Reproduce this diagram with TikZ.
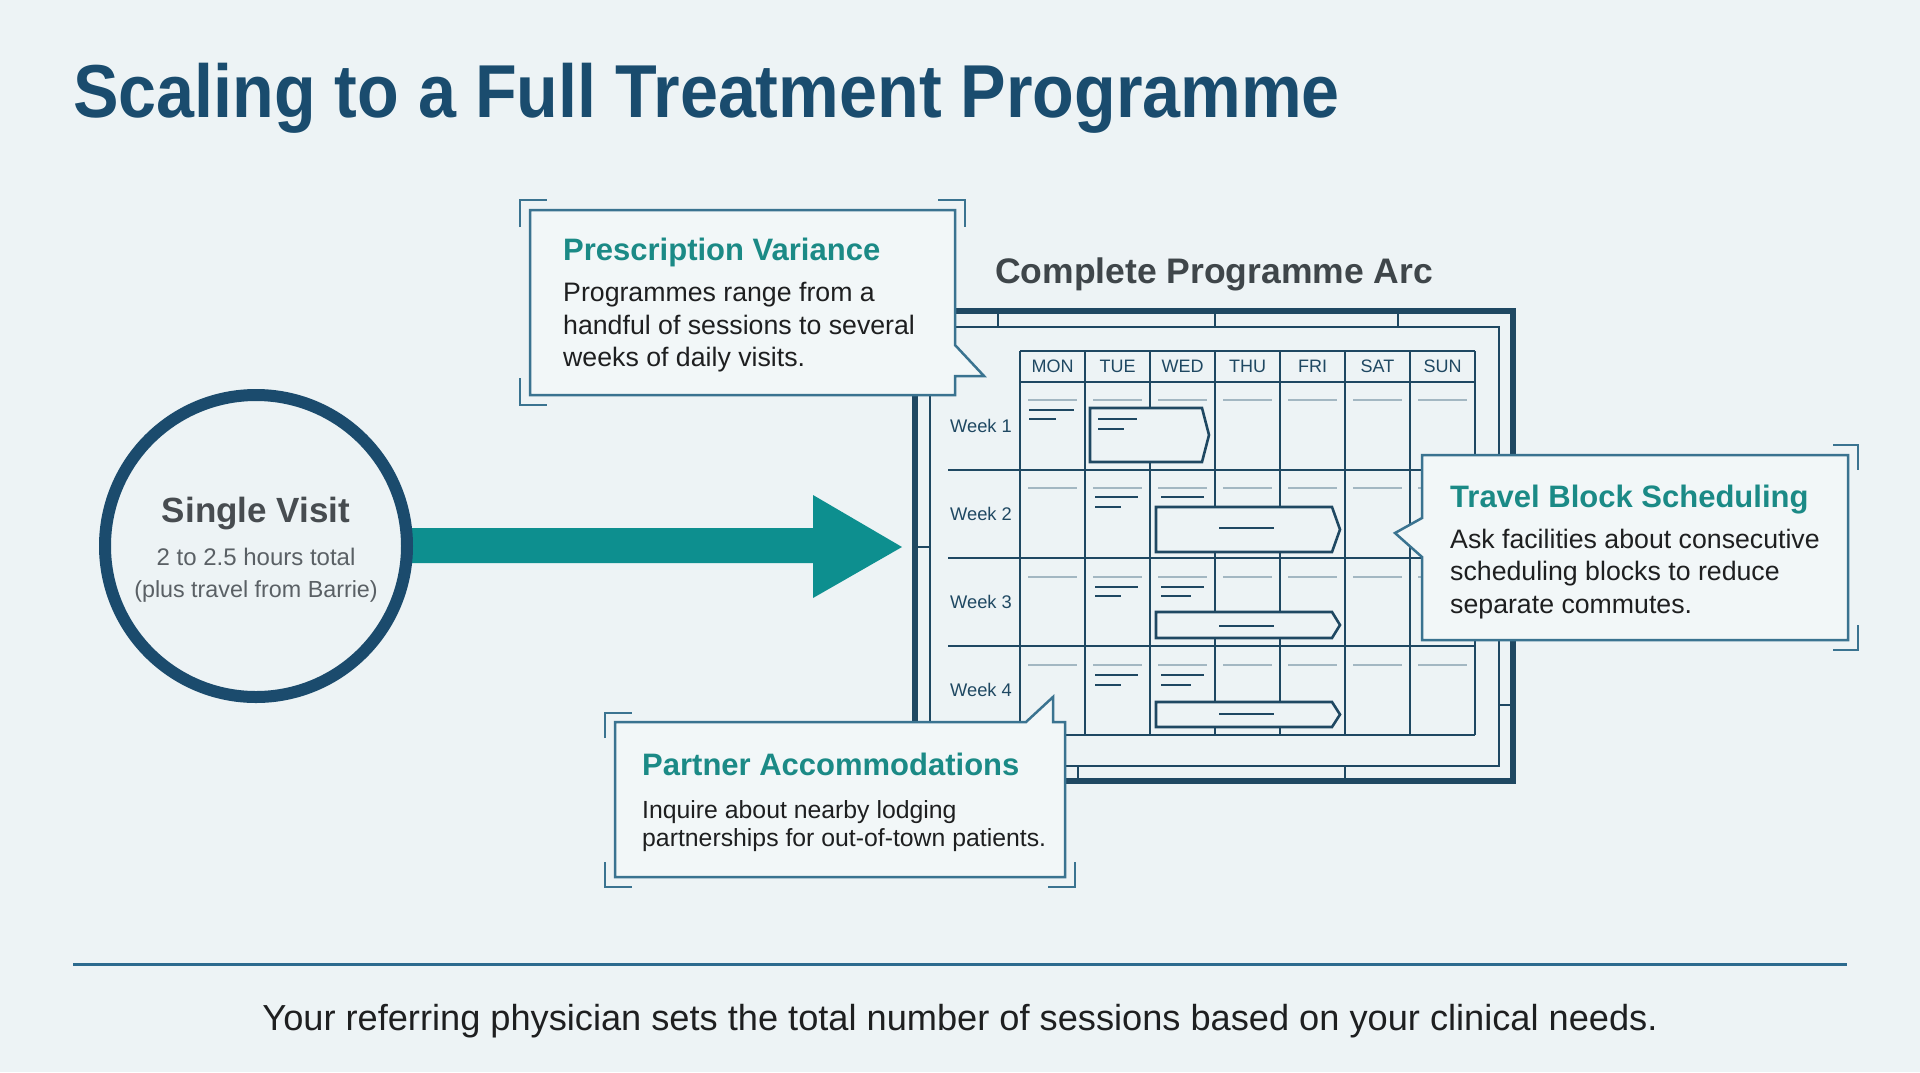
\documentclass[tikz,border=0pt]{standalone}
\usepackage{fontspec}
\setmainfont{Liberation Sans}
\usepackage{graphicx}
\usetikzlibrary{calc,backgrounds}
\definecolor{pagebg}{HTML}{EDF3F5}
\definecolor{cardfill}{HTML}{F2F7F8}
\definecolor{titleblue}{HTML}{1A4C6E}
\definecolor{headteal}{HTML}{1B8A86}
\definecolor{bodyblack}{HTML}{1E1F20}
\definecolor{circnavy}{HTML}{1B4B6D}
\definecolor{svgrey}{HTML}{474C50}
\definecolor{subgrey}{HTML}{5A6065}
\definecolor{arcgrey}{HTML}{3F464A}
\definecolor{calline}{HTML}{1F4862}
\definecolor{faintline}{HTML}{A3B7C2}
\definecolor{arrowteal}{HTML}{0D8F8F}
\definecolor{cardline}{HTML}{3A7390}
\definecolor{rulecol}{HTML}{2C6A8E}
\tikzset{
  txt/.style={inner sep=0pt, anchor=base west},
  head/.style={txt, font=\bfseries\fontsize{31}{37}\selectfont, text=headteal},
  body/.style={txt, font=\fontsize{26.7}{32}\selectfont, text=bodyblack},
  smallbody/.style={txt, font=\fontsize{24.8}{30}\selectfont, text=bodyblack},
  callout/.style={draw=cardline, line width=2.5pt, fill=cardfill, line join=miter},
  bracket/.style={draw=cardline, line width=2.5pt},
  gridline/.style={draw=calline, line width=2.6pt},
  faint/.style={draw=faintline, line width=2pt},
  noteline/.style={draw=calline, line width=2pt},
  block/.style={draw=calline, line width=2.6pt, fill=pagebg, line join=miter},
  dayhdr/.style={inner sep=0pt, anchor=center, font=\fontsize{18}{20}\selectfont, text=calline},
  weeklbl/.style={inner sep=0pt, anchor=center, font=\fontsize{18.3}{20}\selectfont, text=calline}
}
\begin{document}
\begin{tikzpicture}[x=1pt,y=-1pt]
\useasboundingbox (0,0) rectangle (1920,1072);

% title
\node[txt, font=\bfseries\fontsize{75}{90}\selectfont, text=titleblue] (title) at (73,117)
  {\scalebox{0.91}[1]{Scaling to a Full Treatment Programme}};

% single visit circle
\node[circle, draw=circnavy, line width=12pt, minimum size=302pt, inner sep=0pt, fill=pagebg] (sv) at (256,546) {};
\node[inner sep=0pt, anchor=base, font=\bfseries\fontsize{35}{42}\selectfont, text=svgrey] (svt) at (256,522) {Single Visit};
\node[inner sep=0pt, anchor=base, font=\fontsize{24}{29}\selectfont, text=subgrey] (svs1) at (256,565) {2 to 2.5 hours total};
\node[inner sep=0pt, anchor=base, font=\fontsize{23.3}{28}\selectfont, text=subgrey] (svs2) at (256,597) {(plus travel from Barrie)};

\coordinate (calL) at (915,547);

\begin{pgfonlayer}{background}
\fill[pagebg] (0,0) rectangle (1920,1072);
\fill[arrowteal] ($(sv.center)+(140,-18)$) -- ($(calL)+(-102,-19)$) -- ($(calL)+(-102,-52)$)
  -- ($(calL)+(-13,0)$) -- ($(calL)+(-102,51)$) -- ($(calL)+(-102,16)$)
  -- ($(sv.center)+(140,17)$) -- cycle;
\end{pgfonlayer}

% calendar heading
\node[txt, font=\bfseries\fontsize{35.5}{42}\selectfont, text=arcgrey] (arc) at (995,283) {Complete Programme Arc};

% calendar frame
\draw[draw=calline, line width=5.5pt] (915,311) rectangle (1513,781);
\draw[draw=calline, line width=2.6pt] (930,327) rectangle (1499,766);
\foreach \x in {998,1215,1398} \draw[gridline] (\x,311) -- (\x,327);
\foreach \x in {1078,1345} \draw[gridline] (\x,766) -- (\x,781);
\draw[gridline] (1499,705) -- (1513,705);
\draw[gridline] (915,547) -- (930,547);

% grid
\foreach \x in {1020,1085,1150,1215,1280,1345,1410,1475} \draw[gridline] (\x,351) -- (\x,735);
\draw[gridline] (1020,351) -- (1475,351);
\draw[gridline] (1020,382) -- (1475,382);
\foreach \y in {470,558,646} \draw[gridline] (948,\y) -- (1475,\y);
\draw[gridline] (1020,735) -- (1475,735);

% day headers
\foreach \d [count=\i from 0] in {MON,TUE,WED,THU,FRI,SAT,SUN}
  \node[dayhdr] (day\i) at ({1052.5+65*\i},366.5) {\d};

% week labels
\foreach \w [count=\i from 0] in {1,2,3,4}
  \node[weeklbl] (wk\w) at (981,{426+88*\i}) {Week \w};

% faint lines
\foreach \y in {400,488,577,665}
  \foreach \x in {1020,1085,1150,1215,1280,1345,1410}
    \draw[faint] ({\x+8},\y) -- ({\x+57},\y);

% short note lines
\draw[noteline] (1029,410) -- (1074,410);
\draw[noteline] (1029,419) -- (1056,419);
\draw[noteline] (1095,497) -- (1138,497);
\draw[noteline] (1095,507) -- (1121,507);
\draw[noteline] (1161,497) -- (1204,497);
\draw[noteline] (1095,587) -- (1138,587);
\draw[noteline] (1095,596) -- (1121,596);
\draw[noteline] (1161,587) -- (1204,587);
\draw[noteline] (1161,596) -- (1191,596);
\draw[noteline] (1095,675) -- (1138,675);
\draw[noteline] (1095,685) -- (1121,685);
\draw[noteline] (1161,675) -- (1204,675);
\draw[noteline] (1161,685) -- (1191,685);

% session blocks
\draw[block] (1090,408) -- (1202,408) -- (1209,435) -- (1202,462) -- (1090,462) -- cycle;
\draw[noteline] (1098,419) -- (1137,419);
\draw[noteline] (1098,429) -- (1124,429);
\draw[block] (1156,507) -- (1332,507) -- (1340,529.5) -- (1332,552) -- (1156,552) -- cycle;
\draw[noteline] (1219,528) -- (1274,528);
\draw[block] (1156,612) -- (1332,612) -- (1340,625) -- (1332,638) -- (1156,638) -- cycle;
\draw[noteline] (1219,626) -- (1274,626);
\draw[block] (1156,702) -- (1332,702) -- (1340,714.5) -- (1332,727) -- (1156,727) -- cycle;
\draw[noteline] (1219,714) -- (1274,714);

% callout: prescription variance
\draw[callout] (530,210) -- (955,210) -- (955,345) -- (984,376) -- (955,376) -- (955,395) -- (530,395) -- cycle;
\draw[bracket] (520,227) -- (520,200) -- (547,200);
\draw[bracket] (938,200) -- (965,200) -- (965,227);
\draw[bracket] (520,378) -- (520,405) -- (547,405);
\node[head] (pvh) at (563,260) {Prescription Variance};
\node[body] (pv1) at (563,301) {Programmes range from a};
\node[body] (pv2) at (563,334) {handful of sessions to several};
\node[body] (pv3) at (563,366) {weeks of daily visits.};

% callout: travel block scheduling
\draw[callout] (1422,455) -- (1848,455) -- (1848,640) -- (1422,640) -- (1422,557) -- (1395,533) -- (1422,518) -- cycle;
\draw[bracket] (1833,445) -- (1858,445) -- (1858,470);
\draw[bracket] (1858,625) -- (1858,650) -- (1833,650);
\node[head] (tbh) at (1450,507) {Travel Block Scheduling};
\node[body] (tb1) at (1450,548) {Ask facilities about consecutive};
\node[body] (tb2) at (1450,580.5) {scheduling blocks to reduce};
\node[body] (tb3) at (1450,613) {separate commutes.};

% callout: partner accommodations
\draw[callout] (615,722) -- (1026,722) -- (1053,697) -- (1053,722) -- (1065,722) -- (1065,877) -- (615,877) -- cycle;
\draw[bracket] (605,738) -- (605,713) -- (632,713);
\draw[bracket] (605,862) -- (605,887) -- (632,887);
\draw[bracket] (1048,887) -- (1075,887) -- (1075,862);
\node[head] (pah) at (642,775) {Partner Accommodations};
\node[smallbody] (pa1) at (642,818) {Inquire about nearby lodging};
\node[smallbody] (pa2) at (642,846) {partnerships for out-of-town patients.};

% footer
\draw[draw=rulecol, line width=3pt] (73,964) -- (1847,964);
\node[inner sep=0pt, anchor=base, font=\fontsize{36.2}{43}\selectfont, text=bodyblack] (foot) at (960,1030)
  {Your referring physician sets the total number of sessions based on your clinical needs.};
\end{tikzpicture}
\end{document}
